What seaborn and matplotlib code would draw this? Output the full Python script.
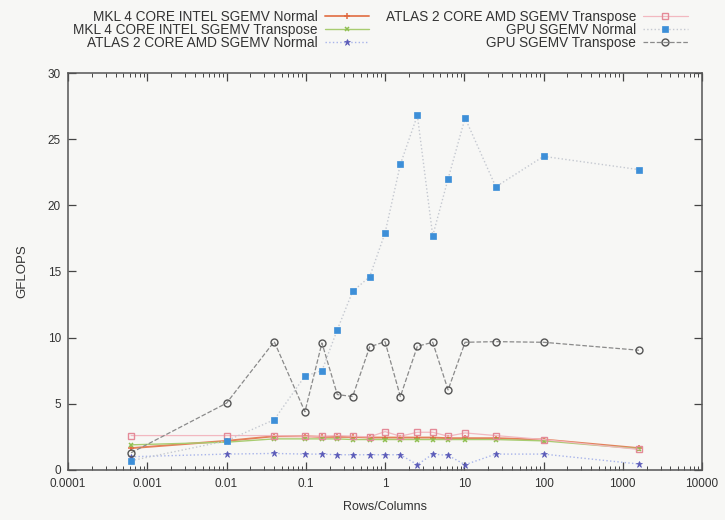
import numpy as np
import pandas as pd
import seaborn as sns
import matplotlib
matplotlib.use("Agg")
import matplotlib.pyplot as plt
from matplotlib.ticker import LogLocator, FuncFormatter, FixedLocator, NullFormatter

# Matrix aspect ratios (rows / columns)
ratios = [0.000625, 0.01, 0.04, 0.09765625, 0.16, 0.25, 0.390625, 0.64, 1.0,
          1.5625, 2.56, 4.0, 6.25, 10.24, 25.0, 100.0, 1600.0]

# Measured throughput in GFLOPS
mkl_normal = [1.65, 2.2, 2.55, 2.55, 2.5, 2.5, 2.5, 2.45, 2.45, 2.45, 2.45, 2.45,
              2.4, 2.4, 2.4, 2.3, 1.65]
mkl_transpose = [1.9, 2.1, 2.35, 2.35, 2.35, 2.35, 2.3, 2.3, 2.3, 2.3, 2.3, 2.3,
                 2.3, 2.3, 2.3, 2.2, 1.6]
atlas_normal = [1.0, 1.2, 1.25, 1.2, 1.2, 1.15, 1.15, 1.15, 1.15, 1.15, 0.4, 1.2,
                1.1, 0.4, 1.2, 1.2, 0.45]
atlas_transpose = [2.6, 2.6, 2.6, 2.55, 2.55, 2.6, 2.55, 2.5, 2.9, 2.55, 2.85, 2.85,
                   2.55, 2.8, 2.6, 2.3, 1.55]
gpu_normal = [0.7, 2.2, 3.8, 7.1, 7.5, 10.6, 13.5, 14.6, 17.9, 23.1, 26.8, 17.7,
              22.0, 26.6, 21.4, 23.7, 22.7]
gpu_transpose = [1.3, 5.05, 9.7, 4.4, 9.6, 5.7, 5.55, 9.3, 9.7, 5.55, 9.35, 9.65,
                 6.05, 9.65, 9.7, 9.65, 9.05]

labels = ["MKL 4 CORE INTEL SGEMV Normal",
          "MKL 4 CORE INTEL SGEMV Transpose",
          "ATLAS 2 CORE AMD SGEMV Normal",
          "ATLAS 2 CORE AMD SGEMV Transpose",
          "GPU SGEMV Normal",
          "GPU SGEMV Transpose"]

x_ticks = [1e-4, 1e-3, 1e-2, 1e-1, 1, 10, 100, 1000, 10000]
y_ticks = [0, 5, 10, 15, 20, 25, 30]

sns.set_theme(style="ticks")
plt.rcParams["font.family"] = ["Liberation Sans", "DejaVu Sans"]

bg = "#f7f7f5"
fig = plt.figure(figsize=(7.25, 5.2), dpi=100, facecolor=bg)
ax = fig.add_axes([0.0938, 0.0962, 0.8745, 0.7634], facecolor=bg)

styles = [
    dict(data=mkl_normal, color="#e4805a", ls="-", lw=1.4, marker="+", ms=5,
         mfc="#e4805a", mec="#e06a40", mew=1.1),
    dict(data=mkl_transpose, color="#a8cc70", ls="-", lw=1.0, marker="x", ms=3.5,
         mfc="#8fbf50", mec="#8fbf50", mew=1.1),
    dict(data=atlas_normal, color="#a8b4ea", ls=":", lw=1.0, marker="*", ms=4.5,
         mfc="#5a5ab8", mec="#5a5ab8", mew=0.5),
    dict(data=atlas_transpose, color="#f2b8c0", ls="-", lw=0.9, marker="s", ms=5,
         mfc="none", mec="#e48a98", mew=1.0),
    dict(data=gpu_normal, color="#c4c8d0", ls=":", lw=1.0, marker="s", ms=3.8,
         mfc="#3d8fd8", mec="#3d8fd8", mew=0.5),
    dict(data=gpu_transpose, color="#8a8a8a", ls="--", lw=0.9, marker="o", ms=5,
         mfc="none", mec="#555555", mew=1.0),
]

for lab, st in zip(labels, styles):
    df = pd.DataFrame({"ratio": ratios, "gflops": st["data"]})
    sns.lineplot(data=df, x="ratio", y="gflops", ax=ax, label=lab,
                 color=st["color"], linestyle=st["ls"], linewidth=st["lw"],
                 marker=st["marker"], markersize=st["ms"],
                 markerfacecolor=st["mfc"], markeredgecolor=st["mec"],
                 markeredgewidth=st["mew"], sort=False)

ax.set_xscale("log")
ax.set_xlim(1e-4, 1e4)
ax.set_ylim(0, 30)
ax.xaxis.set_major_locator(FixedLocator(x_ticks))
ax.xaxis.set_major_formatter(FuncFormatter(lambda v, p: "%g" % v))
ax.xaxis.set_minor_locator(LogLocator(base=10, subs=np.arange(2, 10), numticks=20))
ax.xaxis.set_minor_formatter(NullFormatter())
ax.yaxis.set_major_locator(FixedLocator(y_ticks))

ax.tick_params(which="both", direction="in", top=True, right=True,
               colors="#444444", labelcolor="#333333", labelsize=8.5)
ax.tick_params(which="major", length=6, width=0.9)
ax.tick_params(which="minor", length=3, width=0.7)
ax.tick_params(axis="x", which="major", pad=6)
ax.tick_params(axis="y", which="major", pad=5)
for s in ax.spines.values():
    s.set_color("#555555")
    s.set_linewidth(1.1)

ax.set_xlabel("Rows/Columns", fontsize=9, color="#333333", labelpad=8)
ax.set_ylabel("GFLOPS", fontsize=9.5, color="#333333", labelpad=14)

ax.legend(loc="upper right", bbox_to_anchor=(0.962, 1.0), bbox_transform=fig.transFigure,
          ncol=2, markerfirst=False, frameon=False, fontsize=9.8,
          handlelength=3.3, handletextpad=0.5, columnspacing=1.2,
          labelspacing=-0.05, borderpad=0.2, labelcolor="#333333")

fig.savefig("out.png", dpi=100, facecolor=bg)
